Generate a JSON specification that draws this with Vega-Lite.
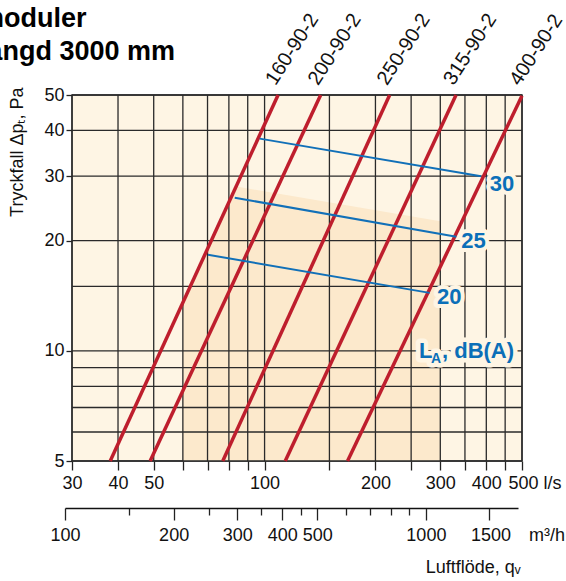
{
  "$schema": "https://vega.github.io/schema/vega-lite/v6.json",
  "width": 450,
  "height": 366,
  "autosize": {"type": "none"},
  "padding": {"left": 72, "top": 95, "right": 44, "bottom": 120},
  "background": "#ffffff",
  "config": {
    "font": "Liberation Sans",
    "view": {"fill": "#FEF5E4", "stroke": "#333333", "strokeWidth": 1.5},
    "axis": {
      "labelFont": "Liberation Sans",
      "labelColor": "#111111",
      "tickColor": "#222222",
      "tickWidth": 1.3,
      "domainColor": "#222222",
      "grid": false,
      "titleFont": "Liberation Sans",
      "titleColor": "#111111",
      "titleFontWeight": "normal",
      "labelFlush": false,
      "labelOverlap": false,
      "labelBound": false
    }
  },
  "title": {
    "text": ["moduler", "längd 3000 mm"],
    "anchor": "start",
    "frame": "group",
    "dx": -92,
    "offset": -56,
    "fontSize": 27,
    "fontWeight": "bold",
    "lineHeight": 33,
    "color": "#000000",
    "font": "Liberation Sans"
  },
  "datasets": {
    "gridX": [{"q": 30}, {"q": 40}, {"q": 50}, {"q": 60}, {"q": 70}, {"q": 80}, {"q": 90}, {"q": 100}, {"q": 150}, {"q": 200}, {"q": 250}, {"q": 300}, {"q": 350}, {"q": 400}, {"q": 450}, {"q": 500}],
    "gridY": [{"p": 5}, {"p": 6}, {"p": 7}, {"p": 8}, {"p": 9}, {"p": 10}, {"p": 15}, {"p": 20}, {"p": 30}, {"p": 40}, {"p": 50}],
    "shade": [{"q": 60, "p": 13.7}, {"q": 84, "p": 28.1}, {"q": 300, "p": 22.6}],
    "ducts": [
      {"name": "160-90-2", "q": 38.1, "p": 5}, {"name": "160-90-2", "q": 108.8, "p": 50},
      {"name": "200-90-2", "q": 48.9, "p": 5}, {"name": "200-90-2", "q": 142, "p": 50},
      {"name": "250-90-2", "q": 77.0, "p": 5}, {"name": "250-90-2", "q": 218.6, "p": 50},
      {"name": "315-90-2", "q": 113.8, "p": 5}, {"name": "315-90-2", "q": 331, "p": 50},
      {"name": "400-90-2", "q": 168, "p": 5}, {"name": "400-90-2", "q": 500, "p": 49.8}
    ],
    "levels": [
      {"level": "30", "q": 97.0, "p": 38.0}, {"level": "30", "q": 387, "p": 30.0},
      {"level": "25", "q": 83.0, "p": 26.2}, {"level": "25", "q": 331.6, "p": 20.5},
      {"level": "20", "q": 70.2, "p": 18.3}, {"level": "20", "q": 280.7, "p": 14.4}
    ],
    "levelLabels": [
      {"text": "30", "q": 408.6, "p": 28.6},
      {"text": "25", "q": 342.2, "p": 20.0},
      {"text": "20", "q": 293.9, "p": 14.06}
    ],
    "unitLabel": [{"q": 262.6, "p": 10}],
    "flow": [{"m3h": 100}, {"m3h": 1800}]
  },
  "layer": [
    {
      "layer": [
        {
          "data": {"name": "shade"},
          "mark": {"type": "area", "color": "#FCE9CC", "opacity": 1},
          "encoding": {
            "x": {"field": "q", "type": "quantitative"},
            "y": {"field": "p", "type": "quantitative"},
            "y2": {"datum": 5}
          }
        },
        {
          "data": {"name": "gridX"},
          "mark": {"type": "rule", "color": "#2a2a2a", "strokeWidth": 1.3},
          "encoding": {
            "x": {
              "field": "q",
              "type": "quantitative",
              "scale": {"type": "log", "domain": [30, 500], "nice": false},
              "axis": {
                "title": null,
                "domain": false,
                "values": [30, 40, 50, 60, 70, 80, 90, 100, 150, 200, 250, 300, 350, 400, 450, 500],
                "labelExpr": "indexof([30,40,50,100,200,300,400], datum.value) >= 0 ? '' + datum.value : (datum.value == 500 ? '500 l/s' : '')",
                "labelAlign": {"condition": {"test": "datum.value == 500", "value": "left"}, "value": "center"},
                "labelOffset": {"condition": {"test": "datum.value == 500", "value": -14}, "value": 0},
                "tickSize": 9,
                "labelPadding": 4,
                "labelFontSize": 18
              }
            }
          }
        },
        {
          "data": {"name": "gridY"},
          "mark": {"type": "rule", "color": "#2a2a2a", "strokeWidth": 1.3},
          "encoding": {
            "y": {
              "field": "p",
              "type": "quantitative",
              "scale": {"type": "log", "domain": [5, 50], "nice": false},
              "axis": {
                "values": [5, 10, 20, 30, 40, 50],
                "format": "d",
                "domain": false,
                "tickSize": 6,
                "labelPadding": 2,
                "labelFontSize": 18,
                "title": "Tryckfall Δpₜ, Pa",
                "titleFontSize": 18,
                "titleAngle": -90,
                "titleAlign": "right",
                "titleBaseline": "alphabetic",
                "titleX": -50,
                "titleY": -8
              }
            }
          }
        },
        {
          "data": {"name": "ducts"},
          "mark": {"type": "line", "color": "#BE1E2D", "strokeWidth": 3.5},
          "encoding": {
            "x": {"field": "q", "type": "quantitative"},
            "y": {"field": "p", "type": "quantitative"},
            "detail": {"field": "name"}
          }
        },
        {
          "data": {"name": "levels"},
          "mark": {"type": "line", "color": "#1170B8", "strokeWidth": 2},
          "encoding": {
            "x": {"field": "q", "type": "quantitative"},
            "y": {"field": "p", "type": "quantitative"},
            "detail": {"field": "level"}
          }
        },
        {
          "data": {"name": "ducts"},
          "transform": [{"filter": "datum.p > 40"}],
          "mark": {"type": "text", "align": "left", "baseline": "alphabetic", "angle": -57, "dx": 6, "dy": -7, "fontSize": 20, "color": "#111111"},
          "encoding": {
            "x": {"field": "q", "type": "quantitative"},
            "y": {"field": "p", "type": "quantitative"},
            "text": {"field": "name"}
          }
        },
        {
          "data": {"name": "levelLabels"},
          "mark": {"type": "text", "align": "left", "baseline": "middle", "fontSize": 22, "fontWeight": "bold", "fill": "#FEF5E4", "stroke": "#FEF5E4", "strokeWidth": 8, "strokeJoin": "round"},
          "encoding": {
            "x": {"field": "q", "type": "quantitative"},
            "y": {"field": "p", "type": "quantitative"},
            "text": {"field": "text"}
          }
        },
        {
          "data": {"name": "levelLabels"},
          "mark": {"type": "text", "align": "left", "baseline": "middle", "fontSize": 22, "fontWeight": "bold", "color": "#0B6FB8"},
          "encoding": {
            "x": {"field": "q", "type": "quantitative"},
            "y": {"field": "p", "type": "quantitative"},
            "text": {"field": "text"}
          }
        },
        {
          "data": {"name": "unitLabel"},
          "mark": {"type": "text", "align": "left", "baseline": "middle", "fontSize": 22, "fontWeight": "bold", "fill": "#FEF5E4", "stroke": "#FEF5E4", "strokeWidth": 9, "strokeJoin": "round", "text": "L"},
          "encoding": {
            "x": {"field": "q", "type": "quantitative"},
            "y": {"field": "p", "type": "quantitative"}
          }
        },
        {
          "data": {"name": "unitLabel"},
          "mark": {"type": "text", "align": "left", "baseline": "middle", "fontSize": 14, "fontWeight": "bold", "dx": 12, "dy": 8, "fill": "#FEF5E4", "stroke": "#FEF5E4", "strokeWidth": 9, "strokeJoin": "round", "text": "A"},
          "encoding": {
            "x": {"field": "q", "type": "quantitative"},
            "y": {"field": "p", "type": "quantitative"}
          }
        },
        {
          "data": {"name": "unitLabel"},
          "mark": {"type": "text", "align": "left", "baseline": "middle", "fontSize": 22, "fontWeight": "bold", "dx": 23, "fill": "#FEF5E4", "stroke": "#FEF5E4", "strokeWidth": 9, "strokeJoin": "round", "text": ", dB(A)"},
          "encoding": {
            "x": {"field": "q", "type": "quantitative"},
            "y": {"field": "p", "type": "quantitative"}
          }
        },
        {
          "data": {"name": "unitLabel"},
          "mark": {"type": "text", "align": "left", "baseline": "middle", "fontSize": 22, "fontWeight": "bold", "color": "#0B6FB8", "text": "L"},
          "encoding": {
            "x": {"field": "q", "type": "quantitative"},
            "y": {"field": "p", "type": "quantitative"}
          }
        },
        {
          "data": {"name": "unitLabel"},
          "mark": {"type": "text", "align": "left", "baseline": "middle", "fontSize": 14, "fontWeight": "bold", "dx": 12, "dy": 8, "color": "#0B6FB8", "text": "A"},
          "encoding": {
            "x": {"field": "q", "type": "quantitative"},
            "y": {"field": "p", "type": "quantitative"}
          }
        },
        {
          "data": {"name": "unitLabel"},
          "mark": {"type": "text", "align": "left", "baseline": "middle", "fontSize": 22, "fontWeight": "bold", "dx": 23, "color": "#0B6FB8", "text": ", dB(A)"},
          "encoding": {
            "x": {"field": "q", "type": "quantitative"},
            "y": {"field": "p", "type": "quantitative"}
          }
        }
      ]
    },
    {
      "data": {"name": "flow"},
      "mark": {"type": "point", "opacity": 0},
      "encoding": {
        "x": {
          "field": "m3h",
          "type": "quantitative",
          "scale": {"type": "log", "domain": [100, 1800], "range": [-7, 446], "nice": false},
          "axis": {
            "orient": "bottom",
            "offset": 47,
            "domain": true,
            "domainColor": "#111111",
            "domainWidth": 1.4,
            "values": [100, 150, 200, 250, 300, 350, 400, 450, 500, 600, 700, 800, 900, 1000, 1500],
            "labelExpr": "indexof([100,200,300,400,500,1000], datum.value) >= 0 ? '' + datum.value : (datum.value == 1500 ? '1500\u2003m³/h' : '')",
            "labelAlign": {"condition": {"test": "datum.value == 1500", "value": "left"}, "value": "center"},
            "labelOffset": {"condition": {"test": "datum.value == 1500", "value": -19}, "value": 0},
            "tickSize": {"condition": {"test": "indexof([100,200,300,400,500,1000,1500], datum.value) >= 0", "value": 12}, "value": 7},
            "labelPadding": 6,
            "labelFontSize": 18,
            "title": "Luftflöde, qᵥ",
            "titleFontSize": 18,
            "titleAlign": "right",
            "titleBaseline": "alphabetic",
            "titleAngle": 0,
            "titleX": 448,
            "titleY": 64
          }
        }
      }
    }
  ],
  "resolve": {"scale": {"x": "independent"}, "axis": {"x": "independent"}}
}
